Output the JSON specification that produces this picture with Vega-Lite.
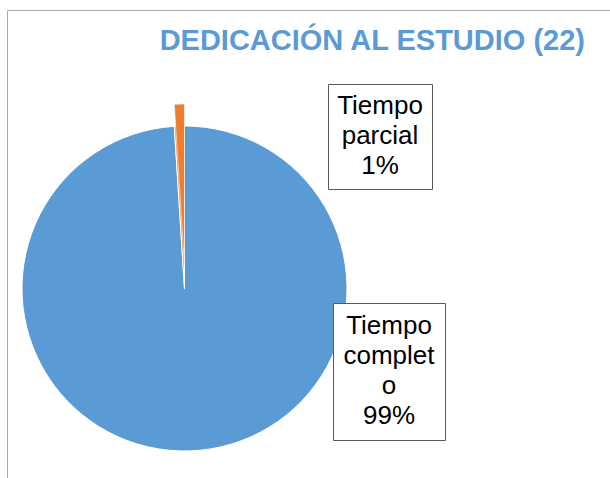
{
  "$schema": "https://vega.github.io/schema/vega-lite/v6.json",
  "autosize": {"type": "none"},
  "padding": {"left": 22, "top": 126, "right": 263, "bottom": 27},
  "width": 325,
  "height": 325,
  "background": "white",
  "config": {
    "view": {"stroke": null},
    "font": "Liberation Sans"
  },
  "title": {
    "text": "DEDICACIÓN AL ESTUDIO (22)",
    "anchor": "end",
    "frame": "group",
    "dx": 238,
    "offset": -69,
    "baseline": "alphabetic",
    "font": "Liberation Sans",
    "fontSize": 29,
    "fontWeight": "bold",
    "color": "#5B9BD5"
  },
  "data": {
    "values": [
      {"categoria": "Tiempo completo", "porcentaje": 99},
      {"categoria": "Tiempo parcial", "porcentaje": 1}
    ]
  },
  "layer": [
    {
      "mark": {"type": "arc", "stroke": "white", "strokeWidth": 1},
      "encoding": {
        "theta": {"field": "porcentaje", "type": "quantitative", "stack": true},
        "order": {"field": "categoria", "sort": "ascending"},
        "color": {
          "field": "categoria",
          "type": "nominal",
          "scale": {"domain": ["Tiempo completo", "Tiempo parcial"], "range": ["#5B9BD5", "#ED7D31"]},
          "legend": {
            "orient": "none",
            "legendX": 306,
            "legendY": -42,
            "values": ["Tiempo parcial"],
            "title": ["Tiempo", "parcial", "1%"],
            "titleFont": "Liberation Sans",
            "titleFontSize": 26,
            "titleFontWeight": "normal",
            "titleColor": "#000000",
            "titleLineHeight": 30,
            "titleAnchor": "middle",
            "titleAlign": "center",
            "titlePadding": 0,
            "padding": 9,
            "strokeColor": "#595959",
            "fillColor": "white",
            "symbolSize": 0,
            "symbolOpacity": 0,
            "symbolStrokeWidth": 0,
            "labelExpr": "''",
            "labelFontSize": 1,
            "labelOffset": 0
          }
        },
        "opacity": {
          "datum": "Tiempo completo 99%",
          "type": "nominal",
          "scale": {"range": [1, 1]},
          "legend": {
            "orient": "none",
            "legendX": 311,
            "legendY": 177,
            "title": ["Tiempo", "complet", "o", "99%"],
            "titleFont": "Liberation Sans",
            "titleFontSize": 26,
            "titleFontWeight": "normal",
            "titleColor": "#000000",
            "titleLineHeight": 30,
            "titleAnchor": "middle",
            "titleAlign": "center",
            "titlePadding": 0,
            "padding": 10,
            "strokeColor": "#595959",
            "fillColor": "white",
            "symbolSize": 0,
            "symbolOpacity": 0,
            "symbolStrokeWidth": 0,
            "labelExpr": "''",
            "labelFontSize": 1,
            "labelOffset": 0
          }
        }
      }
    },
    {
      "mark": {"type": "arc", "stroke": "white", "yOffset": -22},
      "encoding": {
        "theta": {"field": "porcentaje", "type": "quantitative", "stack": true},
        "order": {"field": "categoria", "sort": "ascending"},
        "color": {"field": "categoria", "type": "nominal"},
        "opacity": {
          "condition": {"test": "datum.categoria === 'Tiempo parcial'", "value": 1},
          "value": 0
        },
        "strokeWidth": {
          "field": "porcentaje",
          "type": "quantitative",
          "scale": {"range": [0.6, 0.6]},
          "legend": {
            "orient": "none",
            "legendX": -15,
            "legendY": -116,
            "title": null,
            "values": [50],
            "padding": 330,
            "strokeColor": "#ababab",
            "symbolSize": 0,
            "symbolOpacity": 0,
            "symbolStrokeWidth": 0,
            "labelExpr": "''",
            "labelFontSize": 1,
            "labelOffset": 0
          }
        }
      }
    }
  ]
}
